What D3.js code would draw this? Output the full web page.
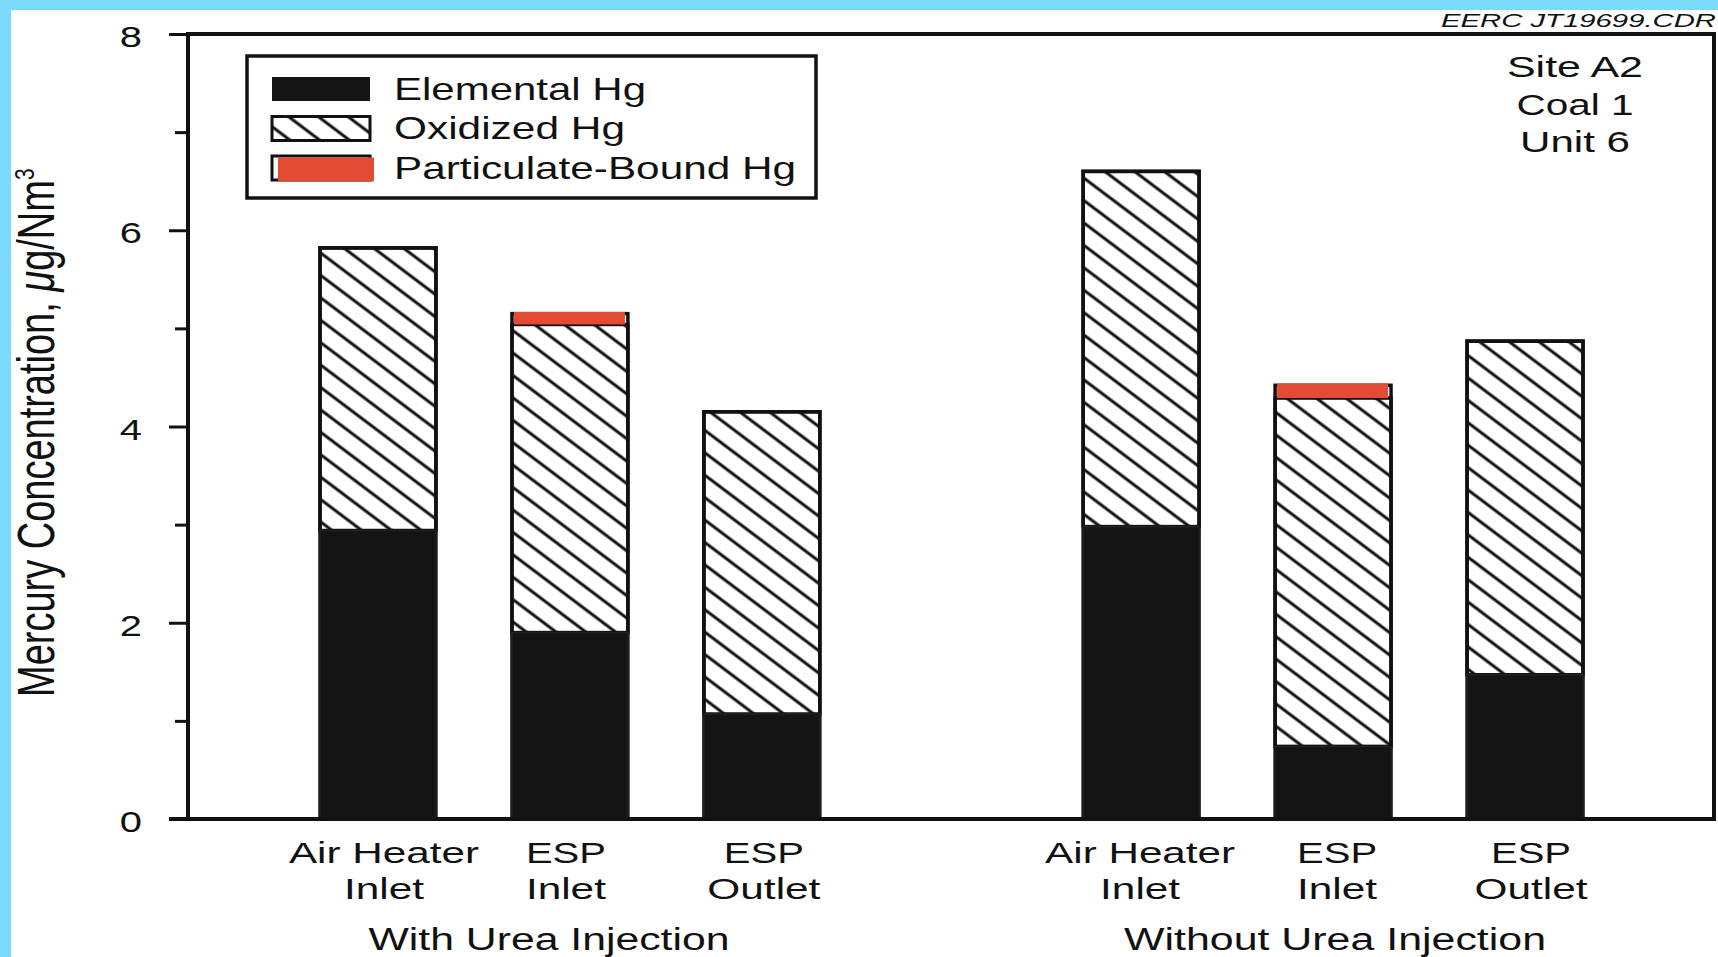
<!DOCTYPE html>
<html>
<head>
<meta charset="utf-8">
<script src="https://cdn.jsdelivr.net/npm/d3@7"></script>
<style>
  html, body { margin: 0; padding: 0; background: #7bd9fb; }
  svg { display: block; }
  text { font-family: "Liberation Sans", Arial, Helvetica, sans-serif; fill: #111; }
</style>
</head>
<body>
<svg id="chart" width="1718" height="957"></svg>
<script>
// ---- data ----
const groups = ["With Urea Injection", "Without Urea Injection"];
const sites = ["Air Heater Inlet", "ESP Inlet", "ESP Outlet"];
const siteLines = [["Air Heater", "Inlet"], ["ESP", "Inlet"], ["ESP", "Outlet"]];
// one value per bar: group 1 sites, then group 2 sites (µg/Nm³)
const elementalHg   = [2.94, 1.90, 1.07, 2.98, 0.74, 1.47];
const oxidizedHg    = [2.88, 3.14, 3.08, 3.62, 3.55, 3.40];
const particulateHg = [0.00, 0.11, 0.00, 0.00, 0.13, 0.00];
const seriesNames = ["Elemental Hg", "Oxidized Hg", "Particulate-Bound Hg"];
const yMajorTicks = [0, 2, 4, 6, 8];
const yMinorTicks = [1, 3, 5, 7];
const siteNote = ["Site A2", "Coal 1", "Unit 6"];
const fileTag = "EERC JT19699.CDR";

// ---- table built from the arrays ----
const rows = [];
groups.forEach((g, gi) => sites.forEach((s, si) => {
  const i = gi * sites.length + si;
  rows.push({ group: g, site: s, lines: siteLines[si], idx: i,
              elemental: elementalHg[i], oxidized: oxidizedHg[i], particulate: particulateHg[i] });
}));
const keys = ["elemental", "oxidized", "particulate"];
const stacked = d3.stack().keys(keys)(rows);

// ---- layout ----
const W = 1718, H = 957;
const frame = { left: 188, right: 1714, top: 34, bottom: 819 };
const svg = d3.select("#chart");

const y = d3.scaleLinear().domain([0, 8]).range([frame.bottom, frame.top]);
const xGroup = d3.scaleBand().domain(groups).range([320, 1583]).paddingInner(0.345).paddingOuter(0);
const xSite = d3.scaleBand().domain(sites).range([0, xGroup.bandwidth()]).paddingInner(0.396).paddingOuter(0);
const barX = d => xGroup(d.group) + xSite(d.site);
const bw = xSite.bandwidth();

// helpers: stretch text horizontally
function fitWidth(sel, w) {
  sel.attr("textLength", w).attr("lengthAdjust", "spacingAndGlyphs");
}
function stretch(sel, k) {
  sel.each(function () {
    const L = this.getComputedTextLength();
    d3.select(this).attr("textLength", L * k).attr("lengthAdjust", "spacingAndGlyphs");
  });
}

// paper
svg.append("rect").attr("x", 11).attr("y", 10).attr("width", W - 11).attr("height", H - 10).attr("fill", "#ffffff");

// hatch pattern for oxidized Hg
const defs = svg.append("defs");
const hatch = defs.append("pattern")
  .attr("id", "hatch")
  .attr("patternUnits", "userSpaceOnUse")
  .attr("width", 12).attr("height", 17.9)
  .attr("patternTransform", "rotate(37)");
hatch.append("rect").attr("width", 12).attr("height", 17.9).attr("fill", "#fff");
hatch.append("line").attr("x1", 0).attr("x2", 12).attr("y1", 9).attr("y2", 9)
  .attr("stroke", "#111").attr("stroke-width", 3);

const BAR_STROKE = 3.5;
const RED = "#e44b35";
const BLACK = "#141414";

// ---- bars ----
const gBars = svg.append("g");
const [sElem, sOx, sPart] = stacked;

// oxidized (hatched) segments
gBars.selectAll("rect.ox").data(sOx).join("rect").attr("class", "ox")
  .attr("x", d => barX(d.data)).attr("width", bw)
  .attr("y", d => y(d[1])).attr("height", d => y(d[0]) - y(d[1]))
  .attr("fill", "url(#hatch)").attr("stroke", "#111").attr("stroke-width", BAR_STROKE);

// full bar outline (side edges next to the particulate band)
gBars.selectAll("rect.outline").data(sPart).join("rect").attr("class", "outline")
  .attr("x", d => barX(d.data)).attr("width", bw)
  .attr("y", d => y(d[1])).attr("height", d => y(0) - y(d[1]))
  .attr("fill", "none").attr("stroke", "#111").attr("stroke-width", BAR_STROKE);

// elemental (solid) segments
gBars.selectAll("rect.el").data(sElem).join("rect").attr("class", "el")
  .attr("x", d => barX(d.data)).attr("width", bw)
  .attr("y", d => y(d[1])).attr("height", d => y(d[0]) - y(d[1]))
  .attr("fill", BLACK).attr("stroke", "#222").attr("stroke-width", 1.5);

// particulate-bound segments
gBars.selectAll("rect.pb").data(sPart.filter(d => d[1] - d[0] > 0)).join("rect").attr("class", "pb")
  .attr("x", d => barX(d.data) + 2).attr("width", bw - 5)
  .attr("y", d => y(d[1]) - BAR_STROKE / 2)
  .attr("height", d => y(d[0]) - y(d[1]) + BAR_STROKE / 2)
  .attr("fill", RED);

// ---- frame ----
const gFrame = svg.append("g").attr("stroke", "#111").attr("stroke-width", 4).attr("fill", "none");
gFrame.append("path")
  .attr("d", `M${frame.left},${frame.bottom} V${frame.top} H${frame.right} V${frame.bottom}`)
  .attr("stroke-linejoin", "miter");
gFrame.append("line").attr("x1", 169).attr("x2", frame.right + 2)
  .attr("y1", frame.bottom).attr("y2", frame.bottom);

// ---- y axis ----
const yAxisMajor = d3.axisLeft(y).tickValues(yMajorTicks).tickSize(19).tickPadding(27).tickFormat(d3.format("d"));
const gy = svg.append("g").attr("transform", `translate(${frame.left},0)`).call(yAxisMajor);
gy.select(".domain").remove();
gy.selectAll(".tick line").attr("stroke", "#111").attr("stroke-width", 3);
gy.selectAll(".tick text")
  .attr("font-family", "'Liberation Sans', Arial, sans-serif")
  .attr("font-size", 30).attr("fill", "#111").attr("dy", "0.42em")
  .call(stretch, 1.33);

const yAxisMinor = d3.axisLeft(y).tickValues(yMinorTicks).tickSize(13).tickFormat("");
const gym = svg.append("g").attr("transform", `translate(${frame.left},0)`).call(yAxisMinor);
gym.select(".domain").remove();
gym.selectAll(".tick line").attr("stroke", "#111").attr("stroke-width", 3);

// y axis title (rotated, tall glyphs)
const yTitle = svg.append("text")
  .attr("transform", "translate(54,697) rotate(-90) scale(1,1.35)")
  .attr("font-size", 38);
yTitle.append("tspan").text("Mercury Concentration, ");
yTitle.append("tspan").attr("font-style", "italic").text("\u03bc");
yTitle.append("tspan").text("g/Nm");
yTitle.append("tspan").attr("font-size", 21).attr("dy", -15).text("3");

// ---- x labels ----
const lineWidths = { "Air Heater": 190, "Inlet": 80, "ESP": 80, "Outlet": 113 };
const labelNudge = [6, -4, 2, -1, 4, 6];
const gx = svg.append("g");
rows.forEach(r => {
  const cx = barX(r) + bw / 2 + labelNudge[r.idx];
  r.lines.forEach((ln, li) => {
    gx.append("text").attr("x", cx).attr("y", 863 + li * 36)
      .attr("text-anchor", "middle").attr("font-size", 30).text(ln)
      .call(fitWidth, lineWidths[ln]);
  });
});

const groupLabelPos = [549, 1335];
const groupLabelW = [361, 422];
groups.forEach((g, gi) => {
  svg.append("text").attr("x", groupLabelPos[gi]).attr("y", 950)
    .attr("text-anchor", "middle").attr("font-size", 31).text(g)
    .call(fitWidth, groupLabelW[gi]);
});

// ---- legend ----
const lg = svg.append("g");
lg.append("rect").attr("x", 247).attr("y", 56).attr("width", 569).attr("height", 142)
  .attr("fill", "#fff").attr("stroke", "#111").attr("stroke-width", 3.5);
const swX = 272, swW = 98, swH = 24;
const swY = [77, 116.5, 156];
// elemental
lg.append("rect").attr("x", swX).attr("y", swY[0]).attr("width", swW).attr("height", swH).attr("fill", BLACK);
// oxidized
lg.append("rect").attr("x", swX).attr("y", swY[1]).attr("width", swW).attr("height", swH)
  .attr("fill", "url(#hatch)").attr("stroke", "#111").attr("stroke-width", 3);
// particulate
lg.append("rect").attr("x", swX).attr("y", swY[2]).attr("width", swW).attr("height", swH)
  .attr("fill", "#fff").attr("stroke", "#111").attr("stroke-width", 3);
lg.append("rect").attr("x", swX + 6).attr("y", swY[2] + 1.5).attr("width", swW - 2).attr("height", swH)
  .attr("fill", RED);
const legendW = [252, 231, 402];
const legendBase = [100, 139, 179];
seriesNames.forEach((n, i) => {
  lg.append("text").attr("x", 394).attr("y", legendBase[i]).attr("font-size", 32).text(n)
    .call(fitWidth, legendW[i]);
});

// ---- site note ----
const noteW = [136, 117, 110];
siteNote.forEach((t, i) => {
  svg.append("text").attr("x", 1575).attr("y", 77 + i * 37.5)
    .attr("text-anchor", "middle").attr("font-size", 30).text(t)
    .call(fitWidth, noteW[i]);
});

// ---- file tag ----
svg.append("text").attr("x", 1441).attr("y", 27).attr("font-size", 19)
  .attr("font-style", "italic").text(fileTag).call(fitWidth, 275);
</script>
</body>
</html>
